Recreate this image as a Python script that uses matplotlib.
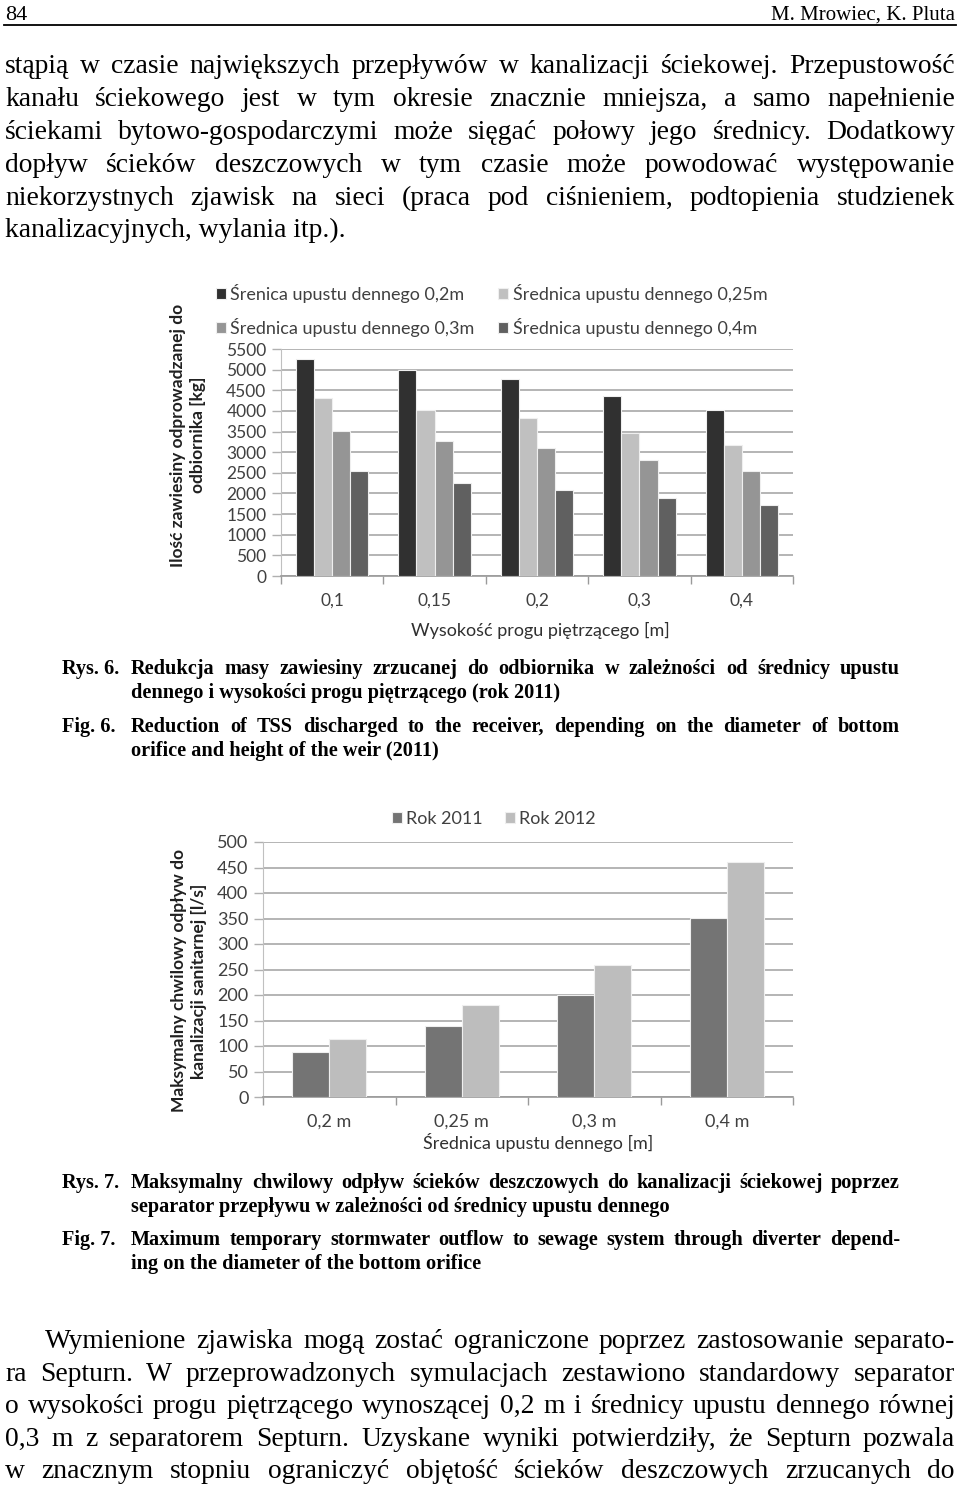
import matplotlib
matplotlib.use('Agg')
import matplotlib.pyplot as plt
import numpy as np

W, H, DPI = 960, 1485, 100

# ---------------- data: Rys. 6 ----------------
weir_heights = ['0,1', '0,15', '0,2', '0,3', '0,4']
series1_labels = ['Śrenica upustu dennego 0,2m', 'Średnica upustu dennego 0,25m',
                  'Średnica upustu dennego 0,3m', 'Średnica upustu dennego 0,4m']
tss_d020 = [5260, 4990, 4770, 4355, 4020]
tss_d025 = [4315, 4020, 3825, 3470, 3170]
tss_d030 = [3525, 3260, 3100, 2800, 2540]
tss_d040 = [2540, 2245, 2090, 1895, 1730]
y1_ticks = list(range(0, 5501, 500))
y1_label = 'Ilość zawiesiny odprowadzanej do\nodbiornika [kg]'
x1_label = 'Wysokość progu piętrzącego [m]'

# ---------------- data: Rys. 7 ----------------
diameters = ['0,2 m', '0,25 m', '0,3 m', '0,4 m']
series2_labels = ['Rok 2011', 'Rok 2012']
flow_2011 = [89, 140, 200, 351]
flow_2012 = [113, 180, 259, 461]
y2_ticks = list(range(0, 501, 50))
y2_label = 'Maksymalny chwilowy odpływ do\nkanalizacji sanitarnej [l/s]'
x2_label = 'Średnica upustu dennego [m]'

# ---------------- page text ----------------
header_left = '84'
header_right = 'M. Mrowiec, K. Pluta'
para1 = [
    'stąpią w czasie największych przepływów w kanalizacji ściekowej. Przepustowość',
    'kanału ściekowego jest w tym okresie znacznie mniejsza, a samo napełnienie',
    'ściekami bytowo-gospodarczymi może sięgać połowy jego średnicy. Dodatkowy',
    'dopływ ścieków deszczowych w tym czasie może powodować występowanie',
    'niekorzystnych zjawisk na sieci (praca pod ciśnieniem, podtopienia studzienek',
    'kanalizacyjnych, wylania itp.).',
]
cap6_pl = ['Redukcja masy zawiesiny zrzucanej do odbiornika w zależności od średnicy upustu',
           'dennego i wysokości progu piętrzącego (rok 2011)']
cap6_en = ['Reduction of TSS discharged to the receiver, depending on the diameter of bottom',
           'orifice and height of the weir (2011)']
cap7_pl = ['Maksymalny chwilowy odpływ ścieków deszczowych do kanalizacji ściekowej poprzez',
           'separator przepływu w zależności od średnicy upustu dennego']
cap7_en = ['Maximum temporary stormwater outflow to sewage system through diverter depend-',
           'ing on the diameter of the bottom orifice']
para2 = [
    'Wymienione zjawiska mogą zostać ograniczone poprzez zastosowanie separato-',
    'ra Septurn. W przeprowadzonych symulacjach zestawiono standardowy separator',
    'o wysokości progu piętrzącego wynoszącej 0,2 m i średnicy upustu dennego równej',
    '0,3 m z separatorem Septurn. Uzyskane wyniki potwierdziły, że Septurn pozwala',
    'w znacznym stopniu ograniczyć objętość ścieków deszczowych zrzucanych do',
]

SERIF = 'Liberation Serif'
SANS = 'Lato'

fig = plt.figure(figsize=(W / DPI, H / DPI), dpi=DPI)
fig.patch.set_facecolor('white')
renderer = fig.canvas.get_renderer()


def fx(px):
    return px / W


def fy(py):
    return 1 - py / H


def text_width(s, **kw):
    t = fig.text(0, 0, s, **kw)
    w = t.get_window_extent(renderer).width
    t.remove()
    return w


def put_line(s, x0, x1, yb, justify, **kw):
    words = s.split(' ')
    if not justify or len(words) == 1:
        fig.text(fx(x0), fy(yb), s, va='baseline', ha='left', **kw)
        return
    ws = [text_width(w, **kw) for w in words]
    gap = (x1 - x0 - sum(ws)) / (len(words) - 1)
    x = x0
    for w, wd in zip(words, ws):
        fig.text(fx(x), fy(yb), w, va='baseline', ha='left', **kw)
        x += wd + gap


def fit_size(lines, cap, fill, **kw):
    best = cap
    for s, x0, x1 in lines:
        w = text_width(s, size=cap, **kw)
        best = min(best, cap * fill * (x1 - x0) / w)
    return best


# ---------------- header ----------------
fig.text(fx(5), fy(20), header_left, va='baseline', ha='left', family=SERIF, size=16, color='black')
fig.text(fx(955), fy(20), header_right, va='baseline', ha='right', family=SERIF, size=15, color='black')
fig.add_artist(plt.Line2D([fx(4), fx(956)], [fy(25), fy(25)], color='black', lw=1.3))

# ---------------- body paragraphs ----------------
body_lines = [(s, 5, 955) for s in para1[:-1]] + [(para2[0], 45, 955)] + [(s, 5, 955) for s in para2[1:]]
body_size = fit_size(body_lines, 21, 0.975, family=SERIF)
base1 = [73, 106, 139, 172, 205, 237]
for i, s in enumerate(para1):
    put_line(s, 5, 955, base1[i], i < len(para1) - 1, family=SERIF, size=body_size, color='black')
base2 = [1348, 1381, 1413, 1446, 1478]
for i, s in enumerate(para2):
    put_line(s, 45 if i == 0 else 5, 955, base2[i], True, family=SERIF, size=body_size, color='black')

# ---------------- captions ----------------
cap_lines = [(cap6_pl[0], 131, 900), (cap6_en[0], 131, 900), (cap7_pl[0], 131, 900), (cap7_en[0], 131, 900)]
cap_size = fit_size(cap_lines, 16, 0.97, family=SERIF, weight='bold')
for tag, lines, b0 in [('Rys. 6.', cap6_pl, 674), ('Fig. 6.', cap6_en, 732),
                       ('Rys. 7.', cap7_pl, 1188), ('Fig. 7.', cap7_en, 1245)]:
    fig.text(fx(62), fy(b0), tag, va='baseline', ha='left', family=SERIF, weight='bold', size=cap_size)
    put_line(lines[0], 131, 900, b0, True, family=SERIF, weight='bold', size=cap_size)
    put_line(lines[1], 131, 900, b0 + 24, False, family=SERIF, weight='bold', size=cap_size)

TICK_C = '#404040'
GRID_C = '#a8a8a8'


def style_axes(ax, yticks, xlabels, xright):
    n = len(xlabels)
    ax.set_xlim(-0.5, xright)
    ax.set_ylim(yticks[0], yticks[-1])
    ax.set_yticks(yticks)
    ax.set_yticklabels([str(v) for v in yticks])
    ax.set_xticks(np.arange(n))
    ax.set_xticklabels(xlabels)
    ax.set_xticks(np.arange(-0.5, n, 1.0), minor=True)
    ax.tick_params(axis='x', which='major', length=0, pad=12, labelsize=12.5, labelcolor=TICK_C)
    ax.tick_params(axis='x', which='minor', length=6, width=1, color='#9a9a9a')
    ax.tick_params(axis='y', length=6.5, width=1, color='#b0b0b0', pad=4, labelsize=12.5, labelcolor=TICK_C)
    for lab in ax.get_xticklabels() + ax.get_yticklabels():
        lab.set_family(SANS)
    ax.yaxis.grid(True, color=GRID_C, lw=1.2)
    ax.set_axisbelow(True)
    for sp in ('top', 'right'):
        ax.spines[sp].set_visible(False)
    ax.spines['left'].set_color('#c0c0c0')
    ax.spines['bottom'].set_color('#9a9a9a')
    ax.spines['bottom'].set_linewidth(1.2)


# ---------------- chart Rys. 6 ----------------
ax1 = fig.add_axes([fx(281), fy(576), (793 - 281) / W, (576 - 349) / H])
x1 = np.arange(len(weir_heights))
bw1 = 0.177
colors1 = ['#303030', '#c0c0c0', '#959595', '#606060']
bars1 = []
for j, (vals, lab, c) in enumerate(zip([tss_d020, tss_d025, tss_d030, tss_d040], series1_labels, colors1)):
    b = ax1.bar(x1 + (j - 1.5) * bw1, vals, bw1, color=c, edgecolor='#efefef', linewidth=0.8,
                label=lab, zorder=3)
    bars1.append(b)
style_axes(ax1, y1_ticks, weir_heights, 4.42)
ax1.set_xlabel(x1_label, family=SANS, size=13, color='#303030')
ax1.xaxis.set_label_coords((540 - 281) / 512, (576 - 630) / 227)
ax1.xaxis.label.set_va('center')
ax1.set_ylabel(y1_label, family=SANS, weight='bold', size=12.5, color='#202020', linespacing=1.25)
ax1.yaxis.set_label_coords((188 - 281) / 512, (576 - 435) / 227)
ax1.yaxis.label.set_va('center')
order = [0, 2, 1, 3]
fig.legend([bars1[i] for i in order], [series1_labels[i] for i in order], ncol=2,
           loc='upper left', bbox_to_anchor=(fx(216), fy(284)), frameon=False,
           prop={'family': SANS, 'size': 13}, labelcolor=TICK_C, handlelength=0.55,
           handleheight=0.55, handletextpad=0.25, labelspacing=0.82, columnspacing=1.3,
           borderpad=0, borderaxespad=0)

# ---------------- chart Rys. 7 ----------------
ax2 = fig.add_axes([fx(263), fy(1097), (793 - 263) / W, (1097 - 842) / H])
x2 = np.arange(len(diameters))
bw2 = 0.28
colors2 = ['#747474', '#bdbdbd']
bars2 = []
for j, (vals, lab, c) in enumerate(zip([flow_2011, flow_2012], series2_labels, colors2)):
    b = ax2.bar(x2 + (j - 0.5) * bw2, vals, bw2, color=c, edgecolor='#efefef', linewidth=0.8,
                label=lab, zorder=3)
    bars2.append(b)
style_axes(ax2, y2_ticks, diameters, 3.35)
ax2.tick_params(axis='both', labelsize=13)
ax2.set_xlabel(x2_label, family=SANS, size=13, color='#303030')
ax2.xaxis.set_label_coords((538 - 263) / 530, (1097 - 1143) / 255)
ax2.xaxis.label.set_va('center')
ax2.set_ylabel(y2_label, family=SANS, weight='bold', size=12.5, color='#202020', linespacing=1.25)
ax2.yaxis.set_label_coords((189 - 263) / 530, (1097 - 981) / 255)
ax2.yaxis.label.set_va('center')
fig.legend(bars2, series2_labels, ncol=2, loc='upper left', bbox_to_anchor=(fx(392), fy(811)),
           frameon=False, prop={'family': SANS, 'size': 13}, labelcolor=TICK_C,
           handlelength=0.55, handleheight=0.55, handletextpad=0.25, columnspacing=1.2,
           borderpad=0, borderaxespad=0)

fig.savefig('out.png', dpi=DPI, facecolor='white')
